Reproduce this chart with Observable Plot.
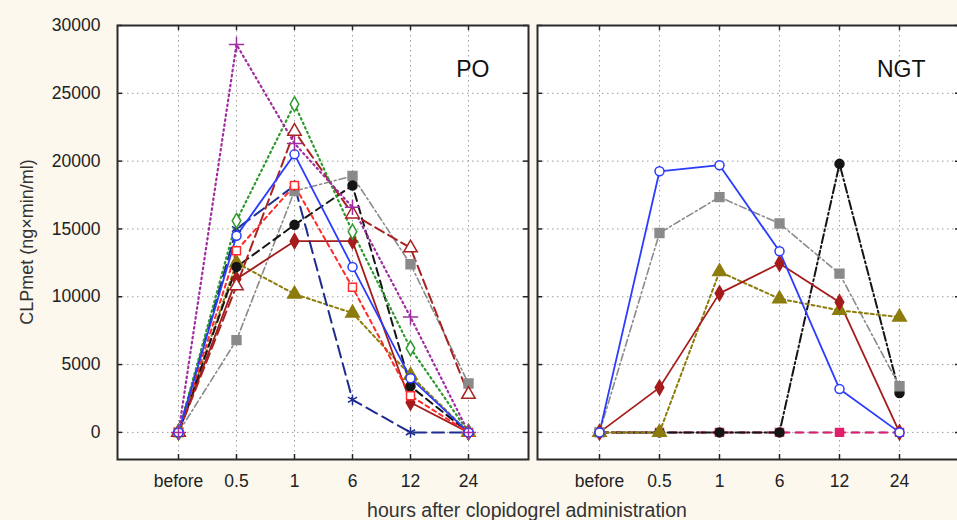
<!DOCTYPE html>
<html><head><meta charset="utf-8">
<script src="https://cdn.jsdelivr.net/npm/d3@7"></script>
<script src="https://cdn.jsdelivr.net/npm/@observablehq/plot@0.6"></script>
<style>
html,body{margin:0;padding:0;background:#fcf8ee;overflow:hidden;}
#wrap{position:relative;width:957px;height:520px;overflow:hidden;background:#fcf8ee;font-family:"Liberation Sans",Arial,sans-serif;}
#po{position:absolute;left:0;top:0;width:535px;height:520px;}
#ngt{position:absolute;left:530px;top:0;width:440px;height:520px;}
#wrap svg{max-width:none !important;}
.ytitle{position:absolute;left:27px;top:242px;transform:translate(-50%,-50%) rotate(-90deg);font-size:18px;color:#333;white-space:nowrap;}
.xtitle{position:absolute;left:527px;top:510px;transform:translate(-50%,-50%);font-size:19.5px;color:#333;white-space:nowrap;}
</style></head>
<body>
<div id="wrap">
  <div id="po"></div>
  <div id="ngt"></div>
  <div class="ytitle">CLPmet (ng×min/ml)</div>
  <div class="xtitle">hours after clopidogrel administration</div>
</div>
<script>
// ---- data ----
const hours = ["before", "0.5", "1", "6", "12", "24"];
const yTicks = [0, 5000, 10000, 15000, 20000, 25000, 30000];
const panelLabels = ["PO", "NGT"];

// PO group
const poGray     = [0, 6800, 17800, 18900, 12400, 3600];
const poOlive    = [0, 12500, 10200, 8800, 4200, 0];
const poDarkRed  = [0, 11300, 14100, 14100, 2200, 0];
const poBlack    = [0, 12200, 15300, 18200, 3400, 0];
const poNavy     = [0, 15000, 18200, 2400, 0, 0];
const poRed      = [0, 13400, 18200, 10700, 2700, 0];
const poRedDash  = [0, 10800, 22200, 16100, 13600, 2800];
const poGreen    = [0, 15600, 24200, 14800, 6200, 0];
const poBlue     = [0, 14500, 20500, 12200, 4000, 0];
const poPurple   = [0, 28600, 21300, 16600, 8500, 0];

// NGT group
const ngtRed     = [0, 0, 0, 0, 0, 0];
const ngtNavy    = [0, 0, 0, 0, 0, 0];
const ngtBlack   = [0, 0, 0, 0, 19800, 2900];
const ngtGray    = [0, 14700, 17350, 15400, 11700, 3400];
const ngtOlive   = [0, 0, 11850, 9850, 9000, 8500];
const ngtDarkRed = [0, 3300, 10250, 12450, 9600, 0];
const ngtBlue    = [0, 19250, 19700, 13350, 3200, 0];

// ---- styles ----
const S = {
  gray:    {color: "#8a8a8a", dash: "7,3,2,3", w: 1.6, symbol: "square", fill: "#8a8a8a", r: 5},
  olive:   {color: "#8c7c0c", dash: "3,3", w: 2, symbol: "triangle", fill: "#8c7c0c", r: 5},
  darkred: {color: "#a51c1c", dash: null, w: 1.8, symbol: "diamond", fill: "#a51c1c", r: 4.5},
  black:   {color: "#151515", dash: "8,5", w: 2, symbol: "circle", fill: "#151515", r: 4.5},
  blackdd: {color: "#151515", dash: "9,3,2,3", w: 2, symbol: "circle", fill: "#151515", r: 4.5},
  navy:    {color: "#1f2c8f", dash: "12,6", w: 2, symbol: "asterisk", fill: "none", r: 5},
  red:     {color: "#ff2a2a", dash: "4,4", w: 2, symbol: "square", fill: "white", r: 4.5},
  reddash: {color: "#a82222", dash: "10,5", w: 2, symbol: "triangle", fill: "white", r: 5},
  green:   {color: "#2e9a2e", dash: "1.5,3.5", w: 2.2, symbol: "diamond", fill: "white", r: 4.5},
  blue:    {color: "#2a3cff", dash: null, w: 1.8, symbol: "circle", fill: "white", r: 4.5},
  purple:  {color: "#a02da0", dash: "1.5,3.5", w: 2.2, symbol: "plus", fill: "none", r: 5},
  zeroRed: {color: "#e0206a", dash: "8,6", w: 2, symbol: "square", fill: "#e0206a", r: 4.5},
  zeroNav: {color: "#3040c0", dash: "6,8", w: 1.5, symbol: "square", fill: "#602070", r: 3.5}
};

const poSeries = [
  [poGray, S.gray], [poOlive, S.olive], [poDarkRed, S.darkred], [poBlack, S.black],
  [poNavy, S.navy], [poRed, S.red], [poRedDash, S.reddash], [poGreen, S.green],
  [poBlue, S.blue], [poPurple, S.purple]
];
const ngtSeries = [
  [ngtNavy, S.zeroNav], [ngtRed, S.zeroRed], [ngtBlack, S.blackdd], [ngtGray, S.gray],
  [ngtOlive, S.olive], [ngtDarkRed, S.darkred], [ngtBlue, S.blue]
];

function panel(series, label, o) {
  const W = o.width - o.ml - o.mr, H = 520 - 25 - 61;
  const marks = [
    Plot.frame({fill: "white"}),
    Plot.ruleY(yTicks.slice(0, -1), {y: d => d, stroke: "#9c9c9c", strokeWidth: 1, strokeDasharray: "1.5,3.5"}),
    Plot.ruleX(hours, {x: d => d, stroke: "#9c9c9c", strokeWidth: 1, strokeDasharray: "1.5,3.5"}),
    Plot.ruleY(yTicks, {y: d => d, stroke: "#222", strokeWidth: 1.5, insetRight: W - 5}),
    Plot.ruleY(yTicks, {y: d => d, stroke: "#222", strokeWidth: 1.5, insetLeft: W - 5}),
    Plot.ruleX(hours, {x: d => d, stroke: "#222", strokeWidth: 1.5, insetBottom: H - 5}),
    Plot.ruleX(hours, {x: d => d, stroke: "#222", strokeWidth: 1.5, insetTop: H - 5})
  ];
  for (const [vals, st] of series) {
    const data = hours.map((h, i) => ({h, v: vals[i]}));
    marks.push(Plot.line(data, {x: "h", y: "v", stroke: st.color, strokeWidth: st.w,
      strokeDasharray: st.dash || undefined}));
  }
  for (const [vals, st] of series) {
    const data = hours.map((h, i) => ({h, v: vals[i]}));
    marks.push(Plot.dot(data, {x: "h", y: "v", symbol: st.symbol, r: st.r,
      fill: st.fill, stroke: st.color, strokeWidth: 1.5}));
  }
  marks.push(Plot.frame({stroke: "#2b2b2b", strokeWidth: 2}));
  marks.push(Plot.text([label], {frameAnchor: "top-right", text: d => d, dx: o.ldx, dy: 35,
    textAnchor: "end", fontSize: 23, fill: "#111"}));
  return Plot.plot({
    width: o.width, height: 520,
    marginLeft: o.ml, marginRight: o.mr, marginTop: 25, marginBottom: 61,
    style: {background: "transparent", fontFamily: "'Liberation Sans', Arial, sans-serif", fontSize: "17.5px", color: "#222", overflow: "visible"},
    x: {type: "point", domain: hours, padding: o.pad, tickSize: 0, tickPadding: 15, label: null},
    y: {domain: [-2000, 30000], ticks: yTicks, tickFormat: d => String(d), tickSize: 0, tickPadding: 17,
        label: null, axis: o.yaxis},
    marks
  });
}

document.getElementById("po").appendChild(panel(poSeries, panelLabels[0], {width: 535, ml: 117, mr: 7, pad: 1.03, yaxis: "left", ldx: -39}));
document.getElementById("ngt").appendChild(panel(ngtSeries, panelLabels[1], {width: 440, ml: 7, mr: 10, pad: 1.0, yaxis: null, ldx: -35}));
</script>
</body></html>
